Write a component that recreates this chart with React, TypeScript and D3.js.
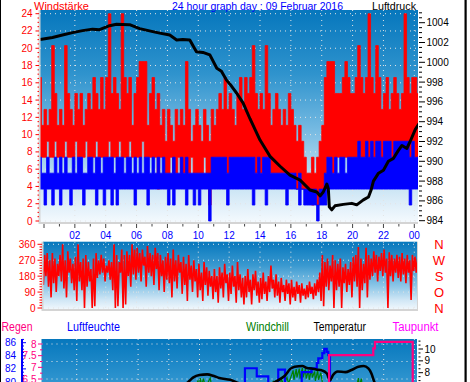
import React from "react";
import * as d3 from "d3";

// ---------------- data ----------------
const T_START = -1 / 3; // first 10-minute bin, hours
const BIN = 1 / 6; // 10 minutes
const WIND_STEP = 1.846; // one anemometer step

// gust (Windböe) range per 10-minute bin, in anemometer steps
const gustHi = [9, 6,
  7, 6, 7, 11, 8, 6, 7, 6, 11, 8, 7, 6, 8, 7, 8, 6, 7, 8, 7, 9, 8, 7, 9, 7,
  9, 13, 8, 9, 8, 7, 13, 9, 8, 9, 6, 8, 9, 10, 10, 10, 6, 8, 9, 7, 8, 6, 7, 5,
  7, 6, 5, 7, 6, 7, 6, 10, 7, 5, 6, 7, 6, 5, 7, 6, 5, 7, 6, 7, 8, 7, 9, 7,
  8, 7, 6, 8, 9, 7, 9, 8, 9, 11, 8, 7, 8, 7, 11, 8, 6, 7, 8, 7, 6, 7, 6, 8,
  7, 6, 5, 6, 5, 4, 3, 3, 4, 3, 4, 5, 6, 9, 10, 10, 10, 8, 8, 8, 9, 10, 9, 8,
  8, 9, 11, 9, 8, 9, 13, 9, 8, 11, 9, 7, 8, 9, 7, 8, 9, 8, 7, 8, 13, 9, 8, 9,
  9, 8];
const gustLo = [4, 4,
  4, 5, 4, 4, 5, 4, 4, 4, 5, 4, 4, 4, 5, 4, 4, 4, 5, 4, 4, 4, 5, 4, 4, 4,
  4, 5, 4, 4, 4, 5, 4, 4, 4, 5, 4, 4, 4, 4, 5, 4, 4, 4, 4, 4, 2, 4, 4, 3,
  3, 4, 3, 3, 4, 3, 3, 3, 3, 4, 3, 3, 3, 3, 4, 3, 1, 3, 4, 4, 4, 4, 4, 3,
  4, 4, 4, 4, 4, 4, 4, 4, 4, 4, 3, 4, 3, 4, 4, 4, 3, 3, 3, 3, 3, 3, 3, 3,
  3, 3, 2, 3, 2, 2, 2, 2, 1, 2, 1, 2, 2, 3, 4, 4, 3, 4, 4, 4, 4, 4, 4, 4,
  4, 4, 5, 4, 4, 5, 4, 5, 4, 5, 5, 4, 5, 5, 5, 4, 5, 5, 5, 5, 4, 5, 4, 5,
  4, 4];
// mean wind range per 10-minute bin, in anemometer steps
const windHi = [4, 3,
  3, 4, 3, 3, 4, 3, 4, 3, 4, 3, 3, 4, 3, 4, 4, 3, 3, 4, 4, 3, 4, 4, 3, 4,
  4, 4, 4, 3, 4, 4, 4, 3, 4, 4, 3, 4, 3, 4, 3, 4, 4, 3, 4, 3, 4, 3, 4, 3,
  3, 3, 4, 3, 3, 4, 3, 4, 3, 3, 3, 3, 3, 3, 3, 3, 3, 4, 4, 4, 4, 4, 4, 3,
  4, 4, 4, 4, 4, 4, 4, 4, 4, 4, 3, 4, 3, 4, 4, 4, 3, 3, 3, 3, 3, 3, 3, 3,
  3, 3, 2, 3, 2, 2, 2, 2, 2, 2, 1, 2, 2, 3, 4, 4, 3, 4, 3, 4, 4, 3, 4, 4,
  4, 4, 5, 4, 4, 5, 4, 5, 4, 5, 5, 4, 5, 5, 5, 4, 5, 5, 5, 5, 5, 5, 4, 5,
  4, 4];
const windLo = [2, 2,
  1, 2, 2, 1, 2, 2, 1, 2, 2, 2, 1, 2, 2, 2, 2, 1, 2, 2, 2, 2, 1, 2, 2, 1,
  2, 2, 1, 2, 1, 2, 2, 2, 2, 2, 2, 1, 2, 2, 2, 2, 1, 2, 2, 2, 2, 2, 2, 2,
  1, 2, 1, 2, 2, 2, 2, 1, 2, 2, 1, 2, 1, 2, 2, 2, 0, 2, 2, 2, 2, 2, 2, 1,
  2, 2, 2, 2, 2, 2, 2, 2, 2, 1, 2, 2, 2, 2, 1, 2, 2, 2, 2, 2, 2, 2, 1, 2,
  2, 2, 2, 1, 2, 1, 1, 1, 1, 1, 0, 1, 1, 1, 2, 2, 2, 2, 2, 2, 2, 2, 2, 2,
  2, 2, 2, 2, 2, 2, 2, 2, 2, 2, 2, 2, 2, 2, 2, 2, 2, 2, 2, 2, 2, 2, 1, 2,
  2, 2];

// wind direction, two readings per 10-minute bin (degrees)
const windDir = [270, 200, 250, 130,
  300, 180, 310, 120, 270, 60, 310, 140, 280, 90, 250, 180,
  300, 150, 360, 110, 270, 60, 320, 200, 280, 140, 250, 100,
  290, 40, 360, 150, 260, 100, 280, 0, 300, 120, 260, 150,
  220, 0, 280, 10, 310, 170, 270, 190, 300, 200, 280, 150,
  240, 200, 270, 160, 260, 100, 360, 0, 300, 10, 260, 200,
  330, 0, 300, 20, 320, 180, 300, 120, 360, 190, 330, 160,
  340, 200, 310, 150, 330, 240, 290, 120, 350, 200, 310, 180,
  300, 130, 340, 220, 310, 100, 300, 180, 270, 90, 290, 160,
  310, 140, 280, 60, 330, 150, 270, 110, 300, 200, 260, 80,
  290, 130, 250, 40, 300, 160, 240, 90, 270, 150, 220, 60,
  250, 100, 200, 40, 260, 130, 230, 70, 210, 120, 180, 50,
  220, 90, 180, 30, 230, 110, 200, 60, 250, 140, 190, 40,
  200, 80, 240, 120, 180, 30, 260, 100, 190, 60, 170, 20,
  180, 60, 220, 90, 160, 20, 190, 100, 210, 70, 150, 30,
  170, 50, 200, 80, 150, 40, 180, 90, 240, 110, 160, 60,
  190, 70, 150, 30, 170, 90, 130, 40, 160, 80, 140, 20,
  160, 60, 120, 40, 150, 80, 130, 30, 140, 70, 110, 50,
  130, 60, 150, 80, 120, 50, 140, 70, 160, 90, 200, 40,
  300, 10, 260, 120, 280, 100, 240, 150, 300, 0, 270, 100,
  250, 120, 280, 0, 230, 140, 250, 90, 220, 130, 260, 60,
  290, 150, 300, 120, 345, 0, 280, 100, 250, 140, 340, 60,
  300, 160, 280, 180, 320, 200, 300, 150, 290, 210, 310, 180,
  330, 200, 280, 0, 315, 180, 300, 150, 280, 200, 300, 170,
  290, 150, 310, 190, 280, 140, 300, 200, 270, 45, 300, 210,
  290, 200, 280, 230];

// Luftdruck [hour, hPa]
const pressure: [number, number][] = [
  [-0.25, 1002.3], [0.55, 1002.5], [1.2, 1002.75], [1.85, 1003.0], [2.5, 1003.2],
  [3.15, 1003.35], [3.6, 1003.3], [4.25, 1003.7], [4.7, 1003.85], [5.55, 1003.8],
  [6.2, 1003.4], [7.05, 1003.1], [7.5, 1002.95], [8.15, 1002.75], [8.6, 1002.25],
  [9.0, 1002.3], [9.45, 1002.25], [9.88, 1001.07], [10.3, 1001.0], [10.75, 1000.75],
  [11.2, 999.4], [11.5, 999.1], [11.83, 998.2], [12.15, 997.6], [12.48, 996.9],
  [12.9, 995.9], [13.35, 994.3], [14.0, 992.15], [14.65, 990.5], [15.3, 989.5],
  [15.94, 988.6], [16.6, 988.1], [17.24, 987.1], [17.68, 986.9], [17.9, 986.5],
  [18.1, 986.9], [18.33, 987.7], [18.43, 987.2], [18.49, 985.4], [18.65, 985.1],
  [18.86, 985.5], [19.4, 985.65], [19.95, 985.75], [20.27, 985.6], [20.7, 986.1],
  [21.03, 986.4], [21.2, 987.1], [21.35, 988.0], [21.68, 988.8], [22.0, 989.1],
  [22.32, 990.0], [22.65, 990.3], [22.97, 991.1], [23.2, 991.6], [23.52, 991.3],
  [23.73, 992.0], [24.06, 993.2], [24.3, 993.8],
];

// Temperatur [hour, °C]
const temperature: [number, number][] = [
  [-0.3, 6.0], [4, 5.8], [8, 6.4], [9.0, 7.0], [9.25, 7.2], [9.6, 7.6], [10.0, 7.8],
  [10.5, 7.86], [10.9, 7.74], [11.3, 7.55], [12.0, 7.4], [12.6, 7.1], [13.5, 6.9],
  [14.5, 7.0], [14.9, 7.2], [15.3, 7.5], [15.6, 7.8], [15.9, 8.3], [16.2, 8.5],
  [16.7, 8.56], [17.0, 8.4], [17.3, 8.35], [17.6, 8.27], [17.96, 8.2], [18.3, 7.93],
  [18.5, 7.36], [18.7, 7.8], [19.0, 8.1], [19.5, 8.05], [19.9, 8.23], [20.35, 8.5],
  [20.7, 8.56], [21.0, 8.36], [21.2, 7.93], [21.4, 7.2], [21.6, 6.8], [22.5, 6.3],
  [24.3, 6.0],
];

// Windchill [hour, °C]
const windchill: [number, number][] = [
  [-0.3, 5.0], [9.6, 6.5], [9.9, 7.3], [10.0, 6.8], [10.05, 7.55], [10.15, 6.9],
  [10.25, 7.5], [10.4, 6.8], [10.7, 7.55], [10.8, 6.8], [11.5, 6.5], [14.6, 6.6],
  [14.8, 7.25], [14.9, 6.9], [15.0, 7.3], [15.2, 6.9], [15.35, 7.4], [15.5, 7.0],
  [15.7, 7.6], [15.8, 7.1], [16.0, 7.8], [16.1, 8.2], [16.15, 7.4], [16.3, 8.3],
  [16.35, 7.6], [16.5, 8.35], [16.55, 7.5], [16.7, 8.4], [16.75, 7.6], [16.9, 8.3],
  [16.95, 7.5], [17.1, 8.2], [17.15, 7.4], [17.3, 8.3], [17.35, 7.6], [17.5, 8.1],
  [17.55, 7.3], [17.7, 8.2], [17.75, 7.4], [17.9, 8.0], [18.0, 7.2], [18.3, 6.5],
  [20.2, 6.6], [20.35, 7.55], [20.4, 6.9], [20.55, 7.5], [20.6, 6.8], [21.0, 6.4],
  [24.3, 5.5],
];

// Taupunkt steps [hour, °C]
const dewpoint: [number, number][] = [
  [-0.3, 6.0], [18.44, 9.49], [21.32, 10.06], [21.43, 10.6], [23.89, 6.0], [24.3, 6.0],
];

// Luftfeuchte steps [hour, %]
const humidity: [number, number][] = [
  [-0.3, 78], [12.96, 82.1], [13.73, 80.85], [14.48, 79.0], [15.13, 81.9], [15.57, 79.0],
  [16.66, 81.5], [17.3, 82.1], [17.64, 82.9], [17.74, 83.6], [18.0, 84.4], [18.13, 85.05],
  [18.29, 84.6], [18.39, 84.1], [18.5, 78], [24.3, 78],
];

const hourLabels = ["02", "04", "06", "08", "10", "12", "14", "16", "18", "20", "22", "00"];
const labelHours = [2, 4, 6, 8, 10, 12, 14, 16, 18, 20, 22, 24];
const windTicks = [0, 2, 4, 6, 8, 10, 12, 14, 16, 18, 20, 22, 24];
const pressTicks = [984, 986, 988, 990, 992, 994, 996, 998, 1000, 1002, 1004];
const dirTicks = [0, 90, 180, 270, 360];
const dirLetters = ["N", "O", "S", "W", "N"]; // from bottom (0) to top (360)
const humTicks = [80, 82, 84, 86];
const rainTicks = [6.5, 7, 7.5, 8];
const rainGrid = [6.5, 7.25, 8];
const tempTicks = [8, 9, 10];

const FONT = "'Liberation Sans', Arial, sans-serif";

export default function App() {
  // plot frames
  const top = { l: 40, r: 418, t: 10, b: 223 };
  const mid = { l: 43, r: 417, t: 241.7, b: 310 };
  const bot = { l: 41.5, r: 417, t: 339, b: 530 };

  const xTop = d3.scaleLinear().domain([0, 24]).range([44, 414.3]);
  const xBot = d3.scaleLinear().domain([0, 24]).range([46, 414.4]);
  const yWind = d3.scaleLinear().domain([0, 24]).range([221, 13.7]);
  const yPress = d3.scaleLinear().domain([984, 1004]).range([220.7, 22.7]);
  const yDir = d3.scaleLinear().domain([0, 360]).range([308, 244.3]);
  const yRain = d3.scaleLinear().domain([6.5, 8]).range([379, 344]);
  const yHum = d3.scaleLinear().domain([80, 86]).range([382, 342.7]);
  const yTemp = d3.scaleLinear().domain([8, 10]).range([372.7, 349]);

  const binT = (i: number) => T_START + i * BIN;

  type B = { t: number; hi: number; lo: number };
  const band = (hi: number[], lo: number[]) => {
    const pts: B[] = hi.map((h, i) => ({ t: binT(i), hi: h, lo: lo[i] }));
    pts.push({ t: binT(hi.length), hi: hi[hi.length - 1], lo: lo[lo.length - 1] });
    return d3
      .area<B>()
      .x((d) => xTop(d.t))
      .y0((d) => yWind(d.lo * WIND_STEP))
      .y1((d) => yWind(d.hi * WIND_STEP))
      .curve(d3.curveStepAfter)(pts) as string;
  };

  const gustPath = band(gustHi, gustLo);
  const windPath = band(windHi, windLo);

  const pressPath = d3
    .line<[number, number]>()
    .x((d) => xTop(d[0]))
    .y((d) => yPress(d[1]))(pressure) as string;

  const dirPath = d3
    .line<number>()
    .x((_, j) => xTop(T_START + (j + 0.5) * (BIN / 2)))
    .y((d) => yDir(d))(windDir) as string;

  const tempPath = d3
    .line<[number, number]>()
    .x((d) => xBot(d[0]))
    .y((d) => yTemp(d[1]))
    .curve(d3.curveMonotoneX)(temperature) as string;
  const chillPath = d3
    .line<[number, number]>()
    .x((d) => xBot(d[0]))
    .y((d) => yTemp(d[1]))(windchill) as string;
  const dewPath = d3
    .line<[number, number]>()
    .x((d) => xBot(d[0]))
    .y((d) => yTemp(d[1]))
    .curve(d3.curveStepAfter)(dewpoint) as string;
  const humPath = d3
    .line<[number, number]>()
    .x((d) => xBot(d[0]))
    .y((d) => yHum(d[1]))
    .curve(d3.curveStepAfter)(humidity) as string;

  const evenHours = d3.range(2, 25, 2);
  const allHours = d3.range(0, 25, 1);
  const gridDot = { stroke: "#e4e4e4", strokeWidth: 1, strokeDasharray: "1 4" };

  const gradStops = (id: string, stops: [number, string][]) => (
    <linearGradient id={id} x1="0" y1="0" x2="0" y2="1">
      {stops.map(([o, c], i) => (
        <stop key={i} offset={o} stopColor={c} />
      ))}
    </linearGradient>
  );

  return (
    <svg
      width={470}
      height={382}
      style={{ position: "absolute", left: 0, top: 0, background: "#ffffff" }}
      fontFamily={FONT}
    >
      <defs>
        {gradStops("gTop", [
          [0, "#0677bd"],
          [0.3, "#2f93cd"],
          [0.55, "#72b8e1"],
          [0.75, "#b2d9f0"],
          [0.9, "#dcedf8"],
          [1, "#f5fafe"],
        ])}
        {gradStops("gMid", [
          [0, "#0677bd"],
          [0.35, "#3a99d0"],
          [0.65, "#8cc6e7"],
          [0.85, "#cfe6f5"],
          [1, "#f3f9fd"],
        ])}
        {gradStops("gBot", [
          [0, "#0677bd"],
          [0.25, "#3599d2"],
          [0.5, "#7cbde3"],
          [0.8, "#cfe6f5"],
          [1, "#f5fafe"],
        ])}
        <clipPath id="cTop">
          <rect x={top.l} y={top.t} width={top.r - top.l} height={top.b - top.t} />
        </clipPath>
        <clipPath id="cMid">
          <rect x={mid.l} y={mid.t} width={mid.r - mid.l} height={mid.b - mid.t} />
        </clipPath>
        <clipPath id="cBot">
          <rect x={bot.l} y={bot.t} width={bot.r - bot.l} height={bot.b - bot.t} />
        </clipPath>
      </defs>

      {/* frame lines */}
      <rect x={0} y={0} width={1} height={382} fill="#000" />
      <rect x={464.5} y={0} width={2.2} height={382} fill="#000" />

      {/* ============ TOP CHART ============ */}
      <rect x={top.l} y={top.t} width={top.r - top.l} height={top.b - top.t} fill="url(#gTop)" />
      <g clipPath="url(#cTop)">
        {windTicks.map((v) => (
          <line key={"wg" + v} x1={top.l} x2={top.r} y1={yWind(v)} y2={yWind(v)} {...gridDot} />
        ))}
        {evenHours.map((h) => (
          <line key={"vg" + h} x1={xTop(h)} x2={xTop(h)} y1={top.t} y2={top.b} {...gridDot} />
        ))}
        <path d={gustPath} fill="#ff0000" stroke="#ff0000" strokeWidth={0.8} />
        <path d={windPath} fill="#0000ff" stroke="#0000ff" strokeWidth={0.8} />
        <path d={pressPath} fill="none" stroke="#000" strokeWidth={3} strokeLinejoin="round" />
      </g>
      <line x1={top.l - 0.5} x2={top.l - 0.5} y1={top.t} y2={top.b + 1} stroke="#d4d4d4" strokeWidth={2} />
      <line x1={top.l - 1} x2={top.r} y1={top.b} y2={top.b} stroke="#d4d4d4" strokeWidth={2} />

      {/* left axis (wind) */}
      {d3.range(0, 24.01, 0.5).map((v) => {
        const major = v % 2 === 0;
        return (
          <line key={"wt" + v} x1={major ? 35.5 : 37.5} x2={39} y1={yWind(v)} y2={yWind(v)} stroke="#ff0000" strokeWidth={1} />
        );
      })}
      {windTicks.map((v) => (
        <text key={"wl" + v} x={32.5} y={yWind(v) + 3.5} fontSize={10} fill="#ff0000" textAnchor="end">
          {v}
        </text>
      ))}

      {/* right axis (pressure) */}
      {d3.range(984, 1005.01, 0.5).map((v) => {
        const major = v % 2 === 0;
        return (
          <line key={"pt" + v} x1={419} x2={major ? 425 : 422} y1={yPress(v)} y2={yPress(v)} stroke="#000" strokeWidth={1} />
        );
      })}
      {pressTicks.map((v) => (
        <text key={"pl" + v} x={426.5} y={yPress(v) + 3.5} fontSize={10} fill="#000">
          {v}
        </text>
      ))}

      {/* x axis */}
      {allHours.map((h) => (
        <line key={"xt" + h} x1={xTop(h)} x2={xTop(h)} y1={224} y2={h % 2 === 0 ? 228 : 226.5} stroke="#444" strokeWidth={1} />
      ))}
      {labelHours.map((h, i) => (
        <text key={"xl" + h} x={xTop(h)} y={238.5} fontSize={10} fill="#0000ff" textAnchor="middle">
          {hourLabels[i]}
        </text>
      ))}

      {/* titles */}
      <text x={34} y={9.8} fontSize={11.5} fill="#ff0000" textLength={55} lengthAdjust="spacingAndGlyphs">
        Windstärke
      </text>
      <text x={172} y={9.8} fontSize={11.5} fill="#0000ff" textLength={171} lengthAdjust="spacingAndGlyphs">
        24 hour graph day : 09 Februar 2016
      </text>
      <text x={372} y={9.8} fontSize={11.5} fill="#000" textLength={44} lengthAdjust="spacingAndGlyphs">
        Luftdruck
      </text>

      {/* ============ MIDDLE CHART ============ */}
      <rect x={mid.l} y={mid.t} width={mid.r - mid.l} height={mid.b - mid.t} fill="url(#gMid)" />
      <g clipPath="url(#cMid)">
        {dirTicks.map((v) => (
          <line key={"dg" + v} x1={mid.l} x2={mid.r} y1={yDir(v)} y2={yDir(v)} {...gridDot} />
        ))}
        {evenHours.map((h) => (
          <line key={"dvg" + h} x1={xTop(h)} x2={xTop(h)} y1={mid.t} y2={mid.b} {...gridDot} />
        ))}
        <path d={dirPath} fill="none" stroke="#ff0000" strokeWidth={1.6} strokeLinejoin="miter" />
      </g>
      <line x1={mid.l - 0.5} x2={mid.l - 0.5} y1={mid.t} y2={mid.b + 1} stroke="#d4d4d4" strokeWidth={2} />
      <line x1={mid.r + 0.5} x2={mid.r + 0.5} y1={mid.t} y2={mid.b + 1} stroke="#d4d4d4" strokeWidth={1} />
      <line x1={mid.l - 1} x2={mid.r + 1} y1={mid.b} y2={mid.b} stroke="#d4d4d4" strokeWidth={2} />
      {d3.range(0, 360.01, 15).map((v) => {
        const major = v % 90 === 0;
        return (
          <line key={"dt" + v} x1={major ? 37.5 : 39.5} x2={42} y1={yDir(v)} y2={yDir(v)} stroke="#ff0000" strokeWidth={1} />
        );
      })}
      {dirTicks.map((v) => (
        <text key={"dl" + v} x={35.5} y={yDir(v) + 3.5} fontSize={10} fill="#ff0000" textAnchor="end">
          {v}
        </text>
      ))}
      {dirTicks.map((v, i) => (
        <text key={"dL" + v} x={439} y={yDir(v) + 5} fontSize={13} fill="#ff0000" textAnchor="middle">
          {dirLetters[i]}
        </text>
      ))}

      {/* ============ BOTTOM CHART ============ */}
      <text x={1.5} y={330.5} fontSize={12} fill="#ff0080" textLength={31} lengthAdjust="spacingAndGlyphs">
        Regen
      </text>
      <text x={67} y={330.5} fontSize={12} fill="#0000ff" textLength={53} lengthAdjust="spacingAndGlyphs">
        Luftfeuchte
      </text>
      <text x={246} y={330.5} fontSize={12} fill="#008000" textLength={43} lengthAdjust="spacingAndGlyphs">
        Windchill
      </text>
      <text x={313.5} y={330.5} fontSize={12} fill="#000" textLength={52.5} lengthAdjust="spacingAndGlyphs">
        Temperatur
      </text>
      <text x={392.5} y={330.5} fontSize={12} fill="#ff00ff" textLength={46} lengthAdjust="spacingAndGlyphs">
        Taupunkt
      </text>

      <rect x={bot.l} y={bot.t} width={bot.r - bot.l} height={bot.b - bot.t} fill="url(#gBot)" />
      <g clipPath="url(#cBot)">
        {rainGrid.map((v) => (
          <line key={"bg" + v} x1={bot.l} x2={bot.r} y1={yRain(v)} y2={yRain(v)} {...gridDot} />
        ))}
        {evenHours.map((h) => (
          <line key={"bvg" + h} x1={xBot(h)} x2={xBot(h)} y1={bot.t} y2={bot.b} {...gridDot} />
        ))}
        <path d={chillPath} fill="none" stroke="#008000" strokeWidth={1.2} />
        <path d={humPath} fill="none" stroke="#0000ff" strokeWidth={2.2} />
        <path d={tempPath} fill="none" stroke="#000" strokeWidth={2.6} />
        <path d={dewPath} fill="none" stroke="#ff0080" strokeWidth={2.2} />
      </g>

      {/* humidity axis */}
      <line x1={22} x2={22} y1={bot.t} y2={382} stroke="#0000ff" strokeWidth={2} />
      {d3.range(79.5, 86.51, 0.5).map((v) => {
        const major = v % 2 === 0;
        return (
          <line key={"ht" + v} x1={22} x2={major ? 26 : 24} y1={yHum(v)} y2={yHum(v)} stroke="#0000ff" strokeWidth={1} />
        );
      })}
      {humTicks.map((v) => (
        <text key={"hl" + v} x={16} y={yHum(v) + 3.5} fontSize={10} fill="#0000ff" textAnchor="end">
          {v}
        </text>
      ))}

      {/* rain axis */}
      {d3.range(6.25, 8.01, 0.25).map((v) => {
        const major = Math.abs((v * 2) % 1) < 1e-6;
        return (
          <line key={"rt" + v} x1={major ? 38 : 40} x2={42.5} y1={yRain(v)} y2={yRain(v)} stroke="#ff0080" strokeWidth={1} />
        );
      })}
      {rainTicks.map((v) => (
        <text key={"rl" + v} x={36.5} y={yRain(v) + 3.5} fontSize={10} fill="#ff0080" textAnchor="end">
          {v}
        </text>
      ))}

      {/* temperature axis */}
      {d3.range(7, 10.7, 1 / 3).map((v, i) => {
        const major = i % 3 === 0;
        return (
          <line key={"tt" + i} x1={418.5} x2={major ? 423 : 420.5} y1={yTemp(v)} y2={yTemp(v)} stroke="#000" strokeWidth={1} />
        );
      })}
      {tempTicks.map((v) => (
        <text key={"tl" + v} x={424.5} y={yTemp(v) + 3.5} fontSize={10} fill="#000">
          {v}
        </text>
      ))}
    </svg>
  );
}
